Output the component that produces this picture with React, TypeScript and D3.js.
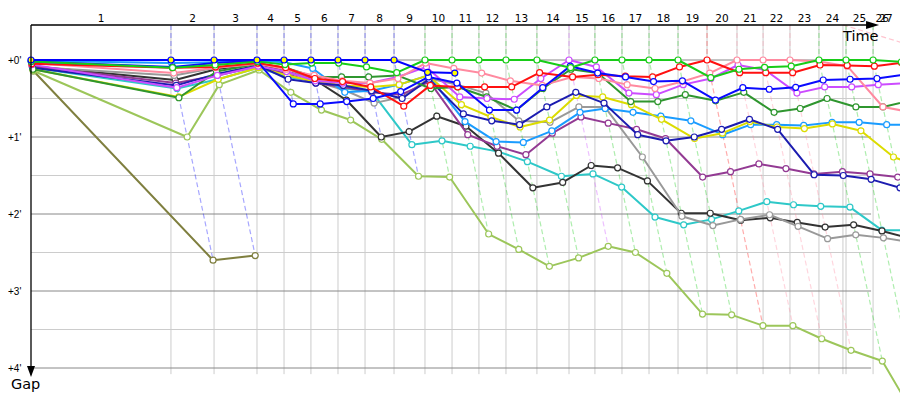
import React from 'react';
import * as d3 from 'd3';

// Leader's lap completion times (minutes since start), lap 0 .. lap 26
const lapTimes = [0, 8.64, 11.3, 13.95, 15.62, 17.28, 18.95, 20.62, 22.41, 24.32, 25.99, 27.65, 29.32, 31.23, 33.21, 34.81, 36.48, 38.15, 39.94, 41.73, 43.58, 45.19, 46.85, 48.64, 50.31, 51.98, 53.7];
const finalLap = 25; // last lap drawn inside the grid
// extra vertical time mark and its slanted marker
const extraGridTimes = [50.12];
const extraMarkLine: [number, number][] = [[50.12, -0.455], [56.0, -0.085]];
// label centres for laps 26 and 27 (squeezed at the end of the axis)
const tailLabelTimes = [52.55, 52.78];
const lapLabels = ['1','2','3','4','5','6','7','8','9','10','11','12','13','14','15','16','17','18','19','20','21','22','23','24','25','26','27'];
const gapTicks = [0, 1, 2, 3, 4];
const gapMinorTicks = [0.5, 1.5, 2.5, 3.5];

// gaps (minutes) per lap, lap 0 .. lap 26
const gapOlive = [0.14, 2.6, 2.54];
const gapLightGreen = [0.14, 1.0, 0.32, 0.13, 0.42, 0.65, 0.78, 1.03, 1.51, 1.52, 2.26, 2.46, 2.68, 2.57, 2.42, 2.5, 2.77, 3.3, 3.31, 3.45, 3.45, 3.62, 3.77, 3.91, 4.84, 5.3];
const gapCyan = [0.1, 0.37, 0.25, 0.1, 0.22, 0.28, 0.37, 0.41, 1.1, 1.05, 1.12, 1.19, 1.32, 1.51, 1.48, 1.65, 2.04, 2.14, 2.07, 1.96, 1.84, 1.88, 1.9, 1.91, 2.21, 2.21];
const gapBlack = [0.08, 0.26, 0.12, 0.05, 0.15, 0.26, 0.52, 1.0, 0.93, 0.73, 0.86, 1.21, 1.66, 1.59, 1.37, 1.4, 1.57, 1.99, 1.99, 2.08, 2.05, 2.11, 2.17, 2.14, 2.22, 2.32];
const gapGray = [0.09, 0.2, 0.1, 0.05, 0.1, 0.28, 0.39, 0.56, 0.48, 0.24, 0.32, 0.43, 0.79, 0.81, 0.61, 0.61, 1.26, 2.03, 2.15, 2.07, 2.01, 2.16, 2.32, 2.27, 2.31, 2.37];
const gapPurple = [0.08, 0.3, 0.2, 0.08, 0.18, 0.3, 0.35, 0.42, 0.45, 0.28, 0.97, 1.12, 1.23, 0.95, 0.74, 0.82, 0.9, 1.02, 1.52, 1.45, 1.35, 1.41, 1.48, 1.45, 1.48, 1.52, 1.55];
const gapAzure = [0.01, 0.04, 0.03, 0.01, 0.03, 0.11, 0.42, 0.4, 0.32, 0.2, 0.8, 1.06, 1.07, 0.92, 0.68, 0.63, 0.68, 0.73, 0.79, 0.97, 0.84, 0.84, 0.85, 0.81, 0.81, 0.84, 0.84];
const gapYellow = [0.12, 0.48, 0.25, 0.1, 0.2, 0.28, 0.33, 0.35, 0.32, 0.2, 0.58, 0.74, 0.87, 0.78, 0.46, 0.48, 0.58, 0.77, 1.02, 0.95, 0.8, 0.87, 0.89, 0.83, 0.92, 1.26, 1.4];
const gapNavy = [0.1, 0.33, 0.18, 0.07, 0.25, 0.3, 0.33, 0.4, 0.5, 0.25, 0.7, 0.79, 0.84, 0.61, 0.42, 0.56, 0.97, 1.05, 1.0, 0.9, 0.77, 0.9, 1.49, 1.5, 1.55, 1.66];
const gapDarkGreen = [0.12, 0.49, 0.15, 0.05, 0.1, 0.22, 0.22, 0.22, 0.2, 0.37, 0.35, 0.48, 0.65, 0.37, 0.12, 0.17, 0.54, 0.54, 0.45, 0.53, 0.42, 0.68, 0.63, 0.5, 0.61, 0.61, 0.53];
const gapMagenta = [0.06, 0.36, 0.2, 0.08, 0.15, 0.27, 0.3, 0.3, 0.22, 0.09, 0.48, 0.5, 0.51, 0.24, 0, 0.09, 0.43, 0.45, 0.32, 0.24, 0.065, 0.13, 0.43, 0.35, 0.35, 0.32, 0.3];
const gapPink = [0.04, 0.17, 0.1, 0.05, 0.12, 0.2, 0.27, 0.3, 0.24, 0.04, 0.11, 0.17, 0.27, 0.33, 0.22, 0.24, 0.32, 0.37, 0.28, 0.17, 0, 0, 0, 0.02, 0.08, 0.61, 0.68];
const gapRed = [0.05, 0.1, 0.09, 0.04, 0.1, 0.24, 0.28, 0.35, 0.6, 0.33, 0.35, 0.35, 0.35, 0.165, 0.22, 0.19, 0.21, 0.22, 0.09, 0, 0.165, 0.165, 0.165, 0.065, 0.07, 0.08, 0.035];
const gapBlue = [0.02, 0.09, 0.04, 0.01, 0.57, 0.57, 0.54, 0.5, 0.41, 0.22, 0.3, 0.65, 0.65, 0.36, 0.08, 0.17, 0.22, 0.28, 0.27, 0.52, 0.36, 0.38, 0.355, 0.26, 0.25, 0.24, 0.19];
const gapGreen = [0.02, 0.1, 0.065, 0.02, 0.06, 0.04, 0.04, 0.09, 0.165, 0, 0, 0, 0, 0, 0.1, 0, 0, 0, 0, 0.23, 0.12, 0.095, 0.08, 0, 0, 0, 0.025];
const gapLeaderBlue = [0, 0, 0, 0, 0, 0, 0, 0, 0, 0.16, 0.17];

const series = [
  { gaps: gapOlive, color: '#7f7f3f', fill: '#ffffff' },
  { gaps: gapLightGreen, color: '#9cc65a', fill: '#ffffff' },
  { gaps: gapCyan, color: '#2ec8c8', fill: '#ffffff' },
  { gaps: gapBlack, color: '#333333', fill: '#ffffff' },
  { gaps: gapGray, color: '#999999', fill: '#ffffff' },
  { gaps: gapPurple, color: '#933a93', fill: '#ffffff' },
  { gaps: gapAzure, color: '#1a9cff', fill: '#ffffff' },
  { gaps: gapYellow, color: '#dcdc00', fill: '#ffffff' },
  { gaps: gapNavy, color: '#1c1cb0', fill: '#ffffff' },
  { gaps: gapDarkGreen, color: '#2f962f', fill: '#ffffff' },
  { gaps: gapMagenta, color: '#cc4cff', fill: '#ffffff' },
  { gaps: gapPink, color: '#ff8aa0', fill: '#ffffff' },
  { gaps: gapRed, color: '#ff1010', fill: '#ffffff' },
  { gaps: gapBlue, color: '#0a0aff', fill: '#ffffff' },
  { gaps: gapGreen, color: '#18cc18', fill: '#ffffff' },
  { gaps: gapLeaderBlue, color: '#0000ff', fill: '#ffff00' },
];

const W = 900;
const H = 400;
const AXIS_X = 31;
const AXIS_TOP = 25;

export default function App() {
  const x = d3.scaleLinear().domain([0, 50]).range([31, 841]);
  const y = d3.scaleLinear().domain([0, 4]).range([60, 368]);
  const endTime = lapTimes[finalLap];
  const line = d3.line<[number, number]>().x(d => x(d[0])).y(d => y(d[1]));

  const pts = series.map(s =>
    s.gaps.map((g, i) => [lapTimes[i] + g, g] as [number, number])
  );

  // lap lines: from leader's crossing down to last runner of that lap
  const lapLines = lapTimes.slice(1).map((t, k) => {
    const n = k + 1;
    let gmax = -1;
    let gmin = Infinity;
    let leaderColor = '#0000ff';
    series.forEach(s => {
      const g = s.gaps[n];
      if (g === undefined || g === null) return;
      if (g > gmax) gmax = g;
      if (g < gmin) { gmin = g; leaderColor = s.color; }
    });
    return { t, gmax, color: leaderColor };
  }).filter(l => l.gmax >= 0);

  const labelPos = lapLabels.map((lab, i) => {
    const t = i < finalLap ? (lapTimes[i] + lapTimes[i + 1]) / 2 : tailLabelTimes[i - finalLap];
    return { lab, t };
  });

  return (
    <svg width={W} height={H} style={{ position: 'absolute', left: 0, top: 0, background: '#fff' }}
      fontFamily="'DejaVu Sans', sans-serif">
      <rect x={0} y={0} width={W} height={H} fill="#ffffff" />
      {gapMinorTicks.map(g => (
        <line key={'hm' + g} x1={AXIS_X} x2={x(endTime) - 2} y1={y(g)} y2={y(g)} stroke="#cccccc" strokeWidth={1} />
      ))}
      {[...lapTimes.slice(1), ...extraGridTimes].map((t, i) => (
        <line key={'v' + i} x1={x(t)} x2={x(t)} y1={AXIS_TOP} y2={y(4.08)} stroke="#cccccc" strokeWidth={1} />
      ))}
      {gapTicks.map(g => (
        <line key={'hM' + g} x1={AXIS_X} x2={x(endTime) - 2} y1={y(g)} y2={y(g)} stroke="#888888" strokeWidth={1} />
      ))}
      {lapLines.map((l, i) => (
        <path key={'lap' + i}
          d={`M${x(l.t)},${AXIS_TOP}L${x(l.t)},${y(0)}L${x(l.t + l.gmax)},${y(l.gmax)}`}
          fill="none" stroke={l.color} strokeOpacity={0.35} strokeWidth={1.2} strokeDasharray="5,3" />
      ))}
      <path d={line(extraMarkLine) || ''} fill="none" stroke="#ff8aa0" strokeOpacity={0.5} strokeWidth={1.2} strokeDasharray="5,3" />
      {series.map((s, si) => (
        <g key={'s' + si}>
          <path d={line(pts[si]) || ''} fill="none" stroke={s.color} strokeWidth={2} strokeLinejoin="round" />
          {pts[si].map((p, pi) => (
            <circle key={pi} cx={x(p[0])} cy={y(p[1])} r={3} fill={s.fill} stroke={s.color} strokeWidth={1.2} />
          ))}
        </g>
      ))}
      <line x1={AXIS_X} x2={x(endTime) - 2} y1={AXIS_TOP} y2={AXIS_TOP} stroke="#000" strokeWidth={1.3} />
      <path d={`M${x(endTime) - 7},${AXIS_TOP - 4}L${x(endTime) + 6},${AXIS_TOP}L${x(endTime) - 7},${AXIS_TOP + 4}Z`} fill="#000" />
      <line x1={AXIS_X} x2={AXIS_X} y1={AXIS_TOP} y2={y(4) + 2} stroke="#000" strokeWidth={1.3} />
      <path d={`M${AXIS_X - 4},${y(4) - 2}L${AXIS_X},${y(4) + 9}L${AXIS_X + 4},${y(4) - 2}Z`} fill="#000" />
      {labelPos.map((l, i) => (
        <text key={'lab' + i} x={x(l.t)} y={22} fontSize={10.5} textAnchor="middle" fill="#000">{l.lab}</text>
      ))}
      {gapTicks.map(g => (
        <text key={'yt' + g} x={8} y={y(g) + 3.5} fontSize={10} fontFamily="'Liberation Sans', sans-serif" fill="#000">{`+${g}'`}</text>
      ))}
      <text x={843} y={41} fontSize={14.5} fill="#000">Time</text>
      <text x={11} y={389} fontSize={14.5} fill="#000">Gap</text>
    </svg>
  );
}
